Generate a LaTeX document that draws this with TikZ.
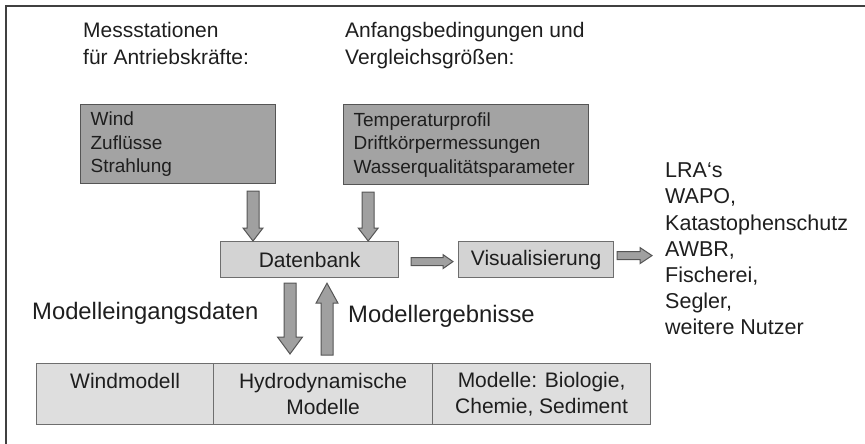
\documentclass[tikz,border=0pt]{standalone}
\usepackage{fontspec}
\setmainfont{Liberation Sans}
\usetikzlibrary{calc}
\definecolor{darkbox}{HTML}{A3A3A3}
\definecolor{lightbox}{HTML}{D3D3D3}
\definecolor{cellfill}{HTML}{DEDEDE}
\definecolor{edgegray}{HTML}{555555}
\definecolor{arrfill}{HTML}{A0A0A0}
\definecolor{txt}{HTML}{1E1E1E}
\newcommand\myblockarrow[5]{%
  \path ($(#2)!#5!(#1)$) coordinate (bahd);
  \filldraw[blockarr] ($(#1)!#3!90:(#2)$) -- ($(bahd)!#3!90:(#2)$) -- ($(bahd)!#4!90:(#2)$) -- (#2) -- ($(bahd)!#4!-90:(#2)$) -- ($(bahd)!#3!-90:(#2)$) -- ($(#1)!#3!-90:(#2)$) -- cycle;
}
\begin{document}
\begin{tikzpicture}[x=1pt,y=-1pt,
  every node/.style={text=txt},
  darkboxst/.style={draw=edgegray, line width=1.2pt, fill=darkbox, inner sep=0pt, anchor=north west,
     font=\fontsize{19}{23.5}\selectfont, align=left},
  lightboxst/.style={draw=edgegray!85, line width=1.2pt, fill=lightbox, inner sep=0pt, anchor=north west,
     minimum height=36pt, font=\fontsize{21}{26}\selectfont},
  cellst/.style={draw=edgegray!85, line width=1.2pt, fill=cellfill, inner sep=0pt, anchor=north west,
     minimum height=61pt, align=center, font=\fontsize{21}{26}\selectfont},
  titlest/.style={anchor=north west, inner sep=0pt, align=left, font=\fontsize{21}{27}\selectfont},
  labelst/.style={anchor=west, inner sep=0pt, font=\fontsize{23.8}{28}\selectfont},
  blockarr/.style={fill=arrfill, draw=edgegray, line width=1pt, line join=miter},
  framest/.style={draw=black!75, line width=1.5pt}
]
\useasboundingbox (0,0) rectangle (865,444);
\draw[framest] (865,6) -- (6,6) -- (6,444);

% titles
\node[titlest] (t1) at (83,22) {Messstationen\\für Antriebskräfte:};
\node[titlest] (t2) at (345,22) {Anfangsbedingungen und\\Vergleichsgrößen:};

% top boxes
\node[darkboxst, minimum width=195pt, minimum height=79pt, text width=175pt] (wbox) at (80,104) {Wind\\Zuflüsse\\Strahlung};
\node[darkboxst, minimum width=245pt, minimum height=80pt, text width=225pt] (tbox) at (343,104) {Temperaturprofil\\Driftkörpermessungen\\Wasserqualitätsparameter};

% middle boxes
\node[lightboxst, minimum width=178pt] (db) at (220,241) {Datenbank};
\node[lightboxst, minimum width=155pt] (vis) at (458,241) {Visualisierung};

% user list
\node[anchor=west, inner sep=0pt, align=left, font=\fontsize{21.5}{26.2}\selectfont] (list) at (665,249)
  {LRA‘s\\WAPO,\\Katastophenschutz\\AWBR,\\Fischerei,\\Segler,\\weitere Nutzer};

% model table
\node[cellst, minimum width=177pt] (m1) at (36,363) {Windmodell\\\phantom{M}};
\node[cellst, minimum width=219pt] (m2) at (213,363) {Hydrodynamische\\Modelle};
\node[cellst, minimum width=218pt] (m3) at (432,363) {Modelle: Biologie,\\Chemie, Sediment};

% labels
\node[labelst] (lin) at (32,313) {Modelleingangsdaten};
\node[labelst] (lout) at (348,316) {Modellergebnisse};

% arrow coordinates
\coordinate (a1e) at ($(db.north west)+(33,0)$);
\coordinate (a1s) at ($(a1e |- wbox.south)+(0,7)$);
\coordinate (a2e) at ($(db.north east)+(-31,0)$);
\coordinate (a2s) at ($(a2e |- tbox.south)+(0,7)$);
\coordinate (a3s) at ($(db.east)+(12,2)$);
\coordinate (a3e) at ($(vis.west)+(-5,2)$);
\coordinate (a4s) at ($(vis.east)+(3,-4)$);
\coordinate (a4e) at ($(list.west |- a4s)+(-13,0)$);
\coordinate (a5s) at ($(db.south west)+(70,5)$);
\coordinate (a5e) at ($(a5s |- m2.north)+(0,-9)$);
\coordinate (a6e) at ($(db.south west)+(107,5)$);
\coordinate (a6s) at ($(a6e |- m2.north)+(0,-8)$);

\myblockarrow{a1s}{a1e}{6pt}{10pt}{13pt}
\myblockarrow{a2s}{a2e}{6pt}{10pt}{13pt}
\myblockarrow{a3s}{a3e}{4pt}{7pt}{10pt}
\myblockarrow{a4s}{a4e}{4pt}{8pt}{12pt}
\myblockarrow{a5s}{a5e}{6pt}{12.5pt}{17pt}
\myblockarrow{a6s}{a6e}{6pt}{11pt}{20pt}
\end{tikzpicture}
\end{document}
